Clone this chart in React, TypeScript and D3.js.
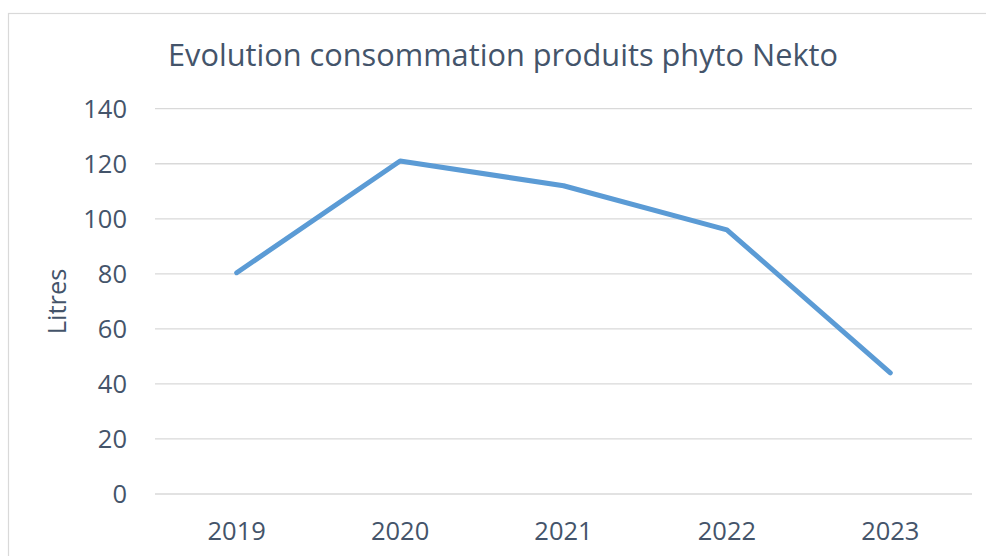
import React from "react";
import * as d3 from "d3";

const categories: string[] = ["2019", "2020", "2021", "2022", "2023"];
const values: number[] = [80.4, 121, 112, 96, 44];
const yTicks: number[] = [0, 20, 40, 60, 80, 100, 120, 140];
const title = "Evolution consommation produits phyto Nekto";
const yTitle = "Litres";

const W = 986;
const H = 556;
const M = { left: 155, right: 972, top: 108.7, bottom: 494 };
const TEXT = "#44546A";
const FONT = "'Open Sans', sans-serif";

export default function App() {
  const x = d3.scaleBand<string>().domain(categories).range([M.left, M.right]).padding(0);
  const y = d3.scaleLinear().domain([0, 140]).range([M.bottom, M.top]);
  const line = d3
    .line<number>()
    .x((_, i) => (x(categories[i]) as number) + x.bandwidth() / 2)
    .y((d) => y(d));

  return (
    <svg
      width={W}
      height={H}
      style={{ position: "absolute", left: 0, top: 0, background: "#fff" }}
      fontFamily={FONT}
    >
      <rect x={8.5} y={13.5} width={W + 10} height={H + 10} fill="#fff" stroke="#D9D9D9" strokeWidth={1.2} />
      <text x={503} y={66} textAnchor="middle" fontSize={31} fill={TEXT} textLength={670} lengthAdjust="spacingAndGlyphs">
        {title}
      </text>
      {yTicks.map((t) => (
        <g key={t}>
          <line x1={M.left} x2={M.right} y1={y(t)} y2={y(t)} stroke="#D9D9D9" strokeWidth={1.3} />
          <text x={127} y={y(t)} dy="0.36em" textAnchor="end" fontSize={25.5} fill={TEXT}>
            {t}
          </text>
        </g>
      ))}
      {categories.map((c) => (
        <text key={c} x={(x(c) as number) + x.bandwidth() / 2} y={540} textAnchor="middle" fontSize={25.5} fill={TEXT}>
          {c}
        </text>
      ))}
      <text
        transform={`translate(66,301.5) rotate(-90)`}
        textAnchor="middle"
        fontSize={25.5}
        fill={TEXT}
      >
        {yTitle}
      </text>
      <path
        d={line(values) || ""}
        fill="none"
        stroke="#5B9BD5"
        strokeWidth={5}
        strokeLinejoin="round"
        strokeLinecap="round"
      />
    </svg>
  );
}
